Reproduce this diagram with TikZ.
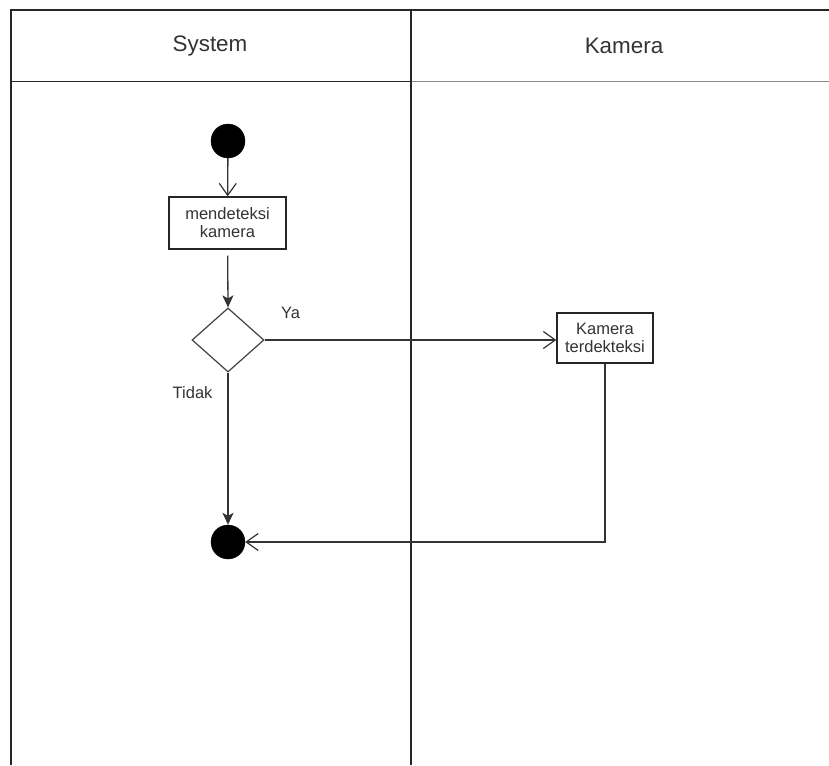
\documentclass[tikz,border=0pt]{standalone}
\usepackage{fontspec}
\setmainfont{Liberation Sans}
\usetikzlibrary{arrows.meta,shapes.geometric,positioning}
\begin{document}
\begin{tikzpicture}[x=1pt,y=-1pt,
  lane/.style={draw=black!85,line width=1.3pt},
  headtext/.style={font=\fontsize{22.4}{26}\selectfont,text=black!80,inner sep=0pt},
  actbox/.style={draw=black!85,line width=1.3pt,fill=white,align=center,inner sep=0pt,
    font=\fontsize{16.5}{18}\selectfont,text=black!80},
  dot/.style={circle,fill=black,draw=black,minimum size=34pt,inner sep=0pt},
  decision/.style={diamond,draw=black!75,line width=1.2pt,fill=white,inner sep=0pt,
    minimum width=72pt,minimum height=64pt,aspect=1.125},
  flow/.style={draw=black!80,line width=1.3pt},
  openarrow/.style={flow,-{Straight Barb[length=12pt,width=17pt,line width=1.2pt]}},
  filledarrow/.style={flow,-{Stealth[length=12pt,width=11pt,inset=3pt]}},
  lbl/.style={font=\fontsize{16.5}{18}\selectfont,text=black!80,inner sep=0pt,anchor=base west}
]
\useasboundingbox (0,0) rectangle (829,765);
% swimlanes
\draw[lane] (11,765) -- (11,10) -- (829,10);
\draw[lane] (11,81.5) -- (411,81.5);
\draw[draw=black!45,line width=1.8pt] (411,81.5) -- (829,81.5);
\draw[lane] (411,10) -- (411,765);
\node[headtext] (hsys) at (210,46) {System};
\node[headtext] (hkam) at (624,46) {Kamera};
% nodes
\node[dot] (start) at (228,141) {};
\node[actbox,minimum width=117pt,minimum height=52pt] (detect) at (227.5,223) {mendeteksi\\kamera};
\node[decision] (dec) at (228,340) {};
\node[actbox,minimum width=96pt,minimum height=50pt] (cam) at (605,338) {Kamera\\terdekteksi};
\node[dot] (end) at (228,542) {};
\coordinate (corner) at (605,542);
% connectors
\draw[openarrow] (start) -- (detect);
\draw[filledarrow,shorten <=6pt] (detect) -- (dec.north);
\draw[openarrow] (dec.east) -- (cam.west |- dec.east);
\draw[filledarrow] (dec.south) -- (end.north);
\draw[openarrow] (cam.south) -- (corner) -- (end.east);
% labels
\node[lbl] (ya) at (281,318) {Ya};
\node[lbl] (tidak) at (172.5,398) {Tidak};
\end{tikzpicture}
\end{document}
